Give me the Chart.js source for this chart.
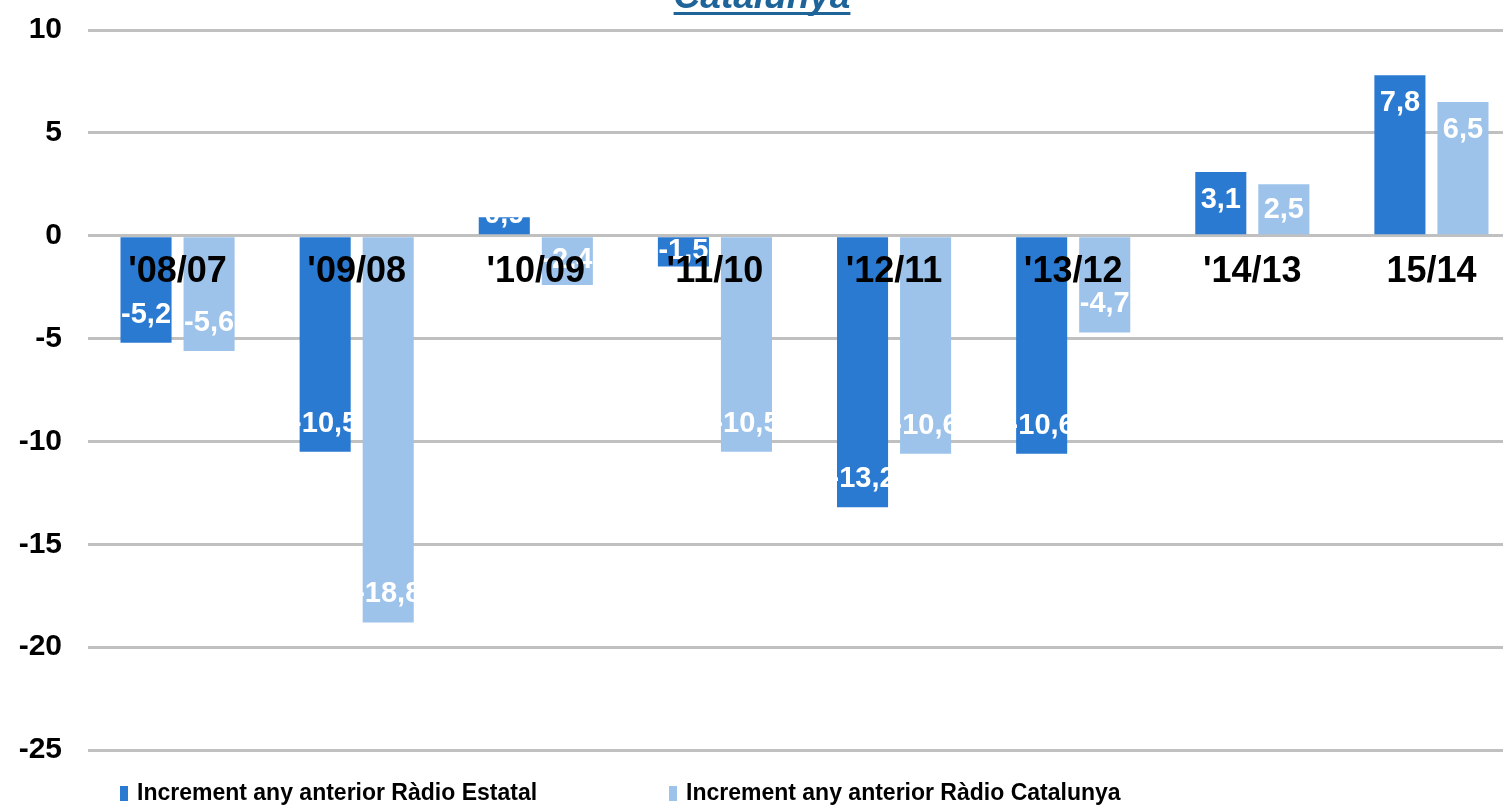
<!DOCTYPE html>
<html>
<head>
<meta charset="utf-8">
<script src="https://cdn.jsdelivr.net/npm/chart.js@4.4.1/dist/chart.umd.min.js"></script>
<style>
  html, body { margin: 0; padding: 0; background: #fff; overflow: hidden; }
  #wrap { width: 1503px; height: 806px; overflow: hidden; }
</style>
</head>
<body>
<div id="wrap"><canvas id="chart" width="1521" height="806"></canvas></div>
<script>
const categories = ["'08/07", "'09/08", "'10/09", "'11/10", "'12/11", "'13/12", "'14/13", "15/14"];
const estatal = [-5.2, -10.5, 0.9, -1.5, -13.2, -10.6, 3.1, 7.8];
const catalunya = [-5.6, -18.8, -2.4, -10.5, -10.6, -4.7, 2.5, 6.5];
const seriesNames = ['Increment any anterior Ràdio Estatal', 'Increment any anterior Ràdio Catalunya'];
const yMin = -25, yMax = 10, yStep = 5;

const FONT = '"Liberation Sans", Arial, sans-serif';
const DARK = 'rgb(42,122,210)';
const LIGHT = 'rgb(157,195,235)';

// white value labels just inside the end of each bar
const barLabels = {
    id: 'barLabels',
    afterDatasetsDraw(chart) {
        const ctx = chart.ctx;
        const zero = chart.scales.y.getPixelForValue(0);
        ctx.save();
        ctx.font = 'bold 29px ' + FONT;
        ctx.fillStyle = '#fff';
        ctx.textAlign = 'center';
        ctx.textBaseline = 'middle';
        chart.data.datasets.forEach((ds, di) => {
            chart.getDatasetMeta(di).data.forEach((bar, i) => {
                const v = ds.data[i];
                const h = Math.abs(bar.y - zero);
                const off = h < 24 ? -2 : Math.min(28, h / 2);
                const y = v < 0 ? bar.y - off : bar.y + off;
                ctx.fillText(v.toFixed(1).replace('.', ','), bar.x, y);
            });
        });
        ctx.restore();
    }
};

// cut-off title at the top and legend at the bottom
const decorations = {
    id: 'decorations',
    afterDraw(chart) {
        const ctx = chart.ctx;
        ctx.save();
        ctx.font = 'italic bold 37px ' + FONT;
        ctx.fillStyle = 'rgb(31,100,152)';
        ctx.textAlign = 'center';
        ctx.textBaseline = 'alphabetic';
        const t = 'Catalunya';
        const w = ctx.measureText(t).width;
        ctx.fillText(t, 762, 8);
        ctx.fillRect(762 - w / 2, 12, w, 3);

        ctx.font = 'bold 23px ' + FONT;
        ctx.textAlign = 'left';
        ctx.textBaseline = 'middle';
        const xs = [120, 669];
        chart.data.datasets.forEach((ds, i) => {
            ctx.fillStyle = ds.backgroundColor;
            ctx.fillRect(xs[i], 786, 8, 15);
            ctx.fillStyle = '#000';
            ctx.fillText(ds.label, xs[i] + 17, 794);
        });
        ctx.restore();
    }
};

new Chart(document.getElementById('chart'), {
    type: 'bar',
    data: {
        labels: categories,
        datasets: [
            { label: seriesNames[0], data: estatal, backgroundColor: DARK },
            { label: seriesNames[1], data: catalunya, backgroundColor: LIGHT }
        ]
    },
    options: {
        responsive: false,
        animation: false,
        layout: { padding: { top: 30, bottom: 56, left: 0, right: 0 } },
        categoryPercentage: 0.704,
        barPercentage: 0.81,
        plugins: {
            legend: { display: false },
            tooltip: { enabled: false },
            title: { display: false }
        },
        scales: {
            x: {
                position: { y: 0 },
                afterFit(axis) { axis.height = 0; },
                grid: { display: false },
                border: { display: false },
                ticks: {
                    z: 1,
                    color: '#000',
                    padding: 7,
                    font: { family: FONT, size: 36, weight: 'bold' }
                }
            },
            y: {
                min: yMin,
                max: yMax,
                afterFit(axis) {
                    axis.width = 88;
                    axis.paddingTop = 0;
                    axis.paddingBottom = 0;
                },
                grid: { color: '#c0c0c0', lineWidth: 3, drawTicks: false },
                border: { display: false },
                ticks: {
                    stepSize: yStep,
                    color: '#000',
                    padding: 26,
                    font: { family: FONT, size: 30, weight: 'bold' }
                }
            }
        }
    },
    plugins: [barLabels, decorations]
});
</script>
</body>
</html>
